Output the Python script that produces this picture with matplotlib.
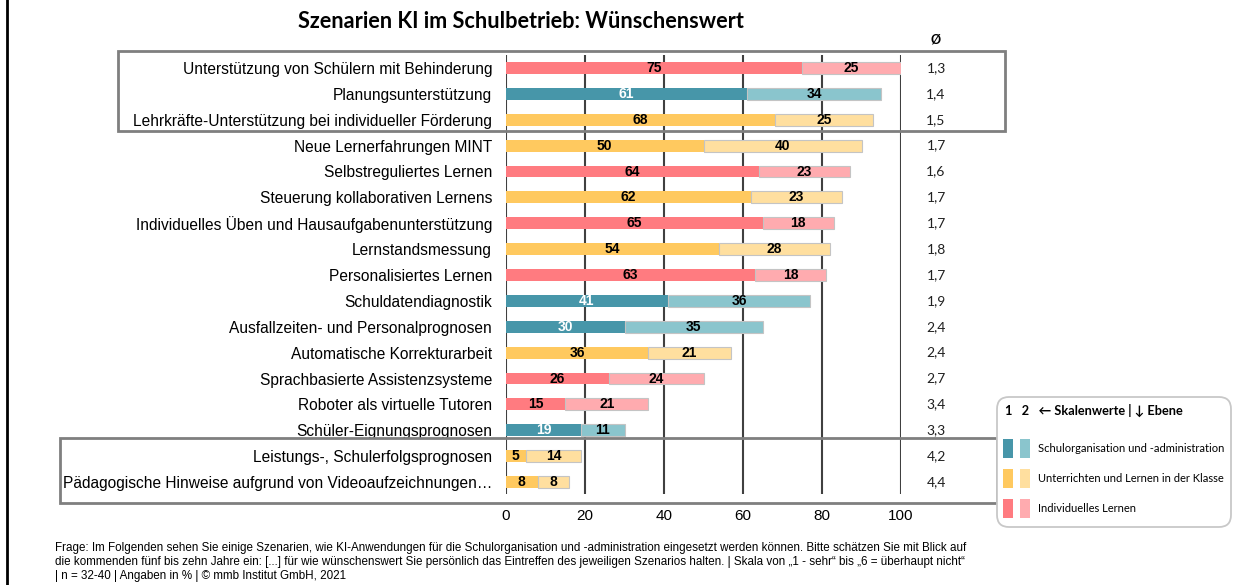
import matplotlib
matplotlib.use("Agg")
import matplotlib.pyplot as plt
from matplotlib.patches import Rectangle, FancyBboxPatch

categories = [
    "Unterstützung von Schülern mit Behinderung",
    "Planungsunterstützung",
    "Lehrkräfte-Unterstützung bei individueller Förderung",
    "Neue Lernerfahrungen MINT",
    "Selbstreguliertes Lernen",
    "Steuerung kollaborativen Lernens",
    "Individuelles Üben und Hausaufgabenunterstützung",
    "Lernstandsmessung",
    "Personalisiertes Lernen",
    "Schuldatendiagnostik",
    "Ausfallzeiten- und Personalprognosen",
    "Automatische Korrekturarbeit",
    "Sprachbasierte Assistenzsysteme",
    "Roboter als virtuelle Tutoren",
    "Schüler-Eignungsprognosen",
    "Leistungs-, Schulerfolgsprognosen",
    "Pädagogische Hinweise aufgrund von Videoaufzeichnungen…",
]
# level: S = Schulorganisation, U = Unterrichten, I = Individuelles Lernen
levels = ["I", "S", "U", "U", "I", "U", "I", "U", "I", "S", "S", "U", "I", "I", "S", "U", "U"]
value1 = [75, 61, 68, 50, 64, 62, 65, 54, 63, 41, 30, 36, 26, 15, 19, 5, 8]
value2 = [25, 34, 25, 40, 23, 23, 18, 28, 18, 36, 35, 21, 24, 21, 11, 14, 8]
means = ["1,3", "1,4", "1,5", "1,7", "1,6", "1,7", "1,7", "1,8", "1,7", "1,9",
         "2,4", "2,4", "2,7", "3,4", "3,3", "4,2", "4,4"]
x_ticks = [0, 20, 40, 60, 80, 100]
legend_labels = ["Schulorganisation und -administration",
                 "Unterrichten und Lernen in der Klasse",
                 "Individuelles Lernen"]

colors = {
    "S": ("#4796A9", "#8AC5CD"),
    "U": ("#FFC95F", "#FFDF9F"),
    "I": ("#FF7B80", "#FFABAF"),
}
label_color1 = {"S": "white", "U": "black", "I": "black"}

W, H = 1247, 585
fig = plt.figure(figsize=(W / 100, H / 100), dpi=100)

def fx(px):
    return px / W

def fy(py):
    return 1 - py / H

# main axes: x 0..100 maps to px 506..901, gridlines from y=55..494
ax_left, ax_right, ax_top, ax_bot = 506, 901, 55, 494
ax = fig.add_axes([fx(ax_left), fy(ax_bot), fx(ax_right - ax_left), (ax_bot - ax_top) / H])
row_top, row_bot = 68, 482
step = (row_bot - row_top) / (len(categories) - 1)
ax.set_ylim(len(categories) - 1 + (ax_bot - row_bot) / step, -(row_top - ax_top) / step)
ax.set_xlim(0, 100)

for t in x_ticks:
    ax.axvline(t, color="#404040", lw=1.5, zorder=1)

ys = list(range(len(categories)))
bh = 0.46
for i, (lv, v1, v2) in enumerate(zip(levels, value1, value2)):
    c1, c2 = colors[lv]
    ax.barh(i, v1, height=bh, color=c1, edgecolor="none", zorder=3)
    ax.barh(i, v2, left=v1, height=bh, color=c2, edgecolor="#c4c4c4", lw=0.8, zorder=3)
    ax.text(v1 / 2, i, str(v1), ha="center", va="center", fontsize=10,
            fontweight="bold", color=label_color1[lv], family="Liberation Sans", zorder=4)
    ax.text(v1 + v2 / 2, i, str(v2), ha="center", va="center", fontsize=10,
            fontweight="bold", color="black", family="Liberation Sans", zorder=4)
    ax.text(1 + (936 - ax_right) / (ax_right - ax_left), i, means[i],
            transform=ax.get_yaxis_transform(), ha="center", va="center",
            fontsize=10, family="Lato", color="#202020", clip_on=False)

ax.set_yticks(ys)
ax.set_yticklabels(categories, fontsize=11.2, family="Liberation Sans")
ax.set_xticks(x_ticks)
ax.set_xticklabels([str(t) for t in x_ticks], fontsize=11, family="Liberation Sans")
ax.tick_params(axis="y", length=0, pad=10)
ax.tick_params(axis="x", length=0, pad=11)
for s in ax.spines.values():
    s.set_visible(False)
ax.set_facecolor("none")

# overlay in pixel coordinates
ov = fig.add_axes([0, 0, 1, 1])
ov.set_xlim(0, W)
ov.set_ylim(H, 0)
ov.axis("off")
ov.set_zorder(5)
ov.patch.set_alpha(0)

ov.plot([7, 7], [0, H], color="black", lw=2)
ov.add_patch(Rectangle((118, 51), 1005 - 118, 131 - 51, fill=False, ec="#7f7f7f", lw=2))
ov.add_patch(Rectangle((60, 438), 997 - 60, 503 - 438, fill=False, ec="#7f7f7f", lw=2))

ov.text(521, 22, "Szenarien KI im Schulbetrieb: Wünschenswert", ha="center", va="center",
        fontsize=15.6, fontweight="bold", family="Lato")
ov.text(936, 40, "Ø", ha="center", va="center", fontsize=9, fontweight="bold", family="Lato")

# legend
ov.add_patch(FancyBboxPatch((997 + 12, 397 + 12), 234 - 24, 130 - 24,
                            boxstyle="round,pad=12", fc="white", ec="#c8c8c8", lw=1.3))
ov.text(1005, 410, "1   2   ← Skalenwerte | ↓ Ebene", ha="left", va="center",
        fontsize=9.2, fontweight="bold", family=["Lato", "DejaVu Sans"])
for k, (lv, lab) in enumerate(zip(["S", "U", "I"], legend_labels)):
    yc = 448 + 30 * k
    ov.add_patch(Rectangle((1003, yc - 9.5), 10, 19, fc=colors[lv][0], ec="none"))
    ov.add_patch(Rectangle((1020, yc - 9.5), 10, 19, fc=colors[lv][1], ec="none"))
    ov.text(1038, yc, lab, ha="left", va="center", fontsize=8, family="Lato")

foot = [
    "Frage: Im Folgenden sehen Sie einige Szenarien, wie KI-Anwendungen für die Schulorganisation und -administration eingesetzt werden können. Bitte schätzen Sie mit Blick auf",
    "die kommenden fünf bis zehn Jahre ein: [...] für wie wünschenswert Sie persönlich das Eintreffen des jeweiligen Szenarios halten. | Skala von „1 - sehr“ bis „6 = überhaupt nicht“",
    "| n = 32-40 | Angaben in % | © mmb Institut GmbH, 2021",
]
for k, line in enumerate(foot):
    ov.text(55, 548 + 14 * k, line, ha="left", va="center", fontsize=8.4,
            family=["Liberation Sans Narrow", "Liberation Sans"])

fig.savefig("out.png", dpi=100)
